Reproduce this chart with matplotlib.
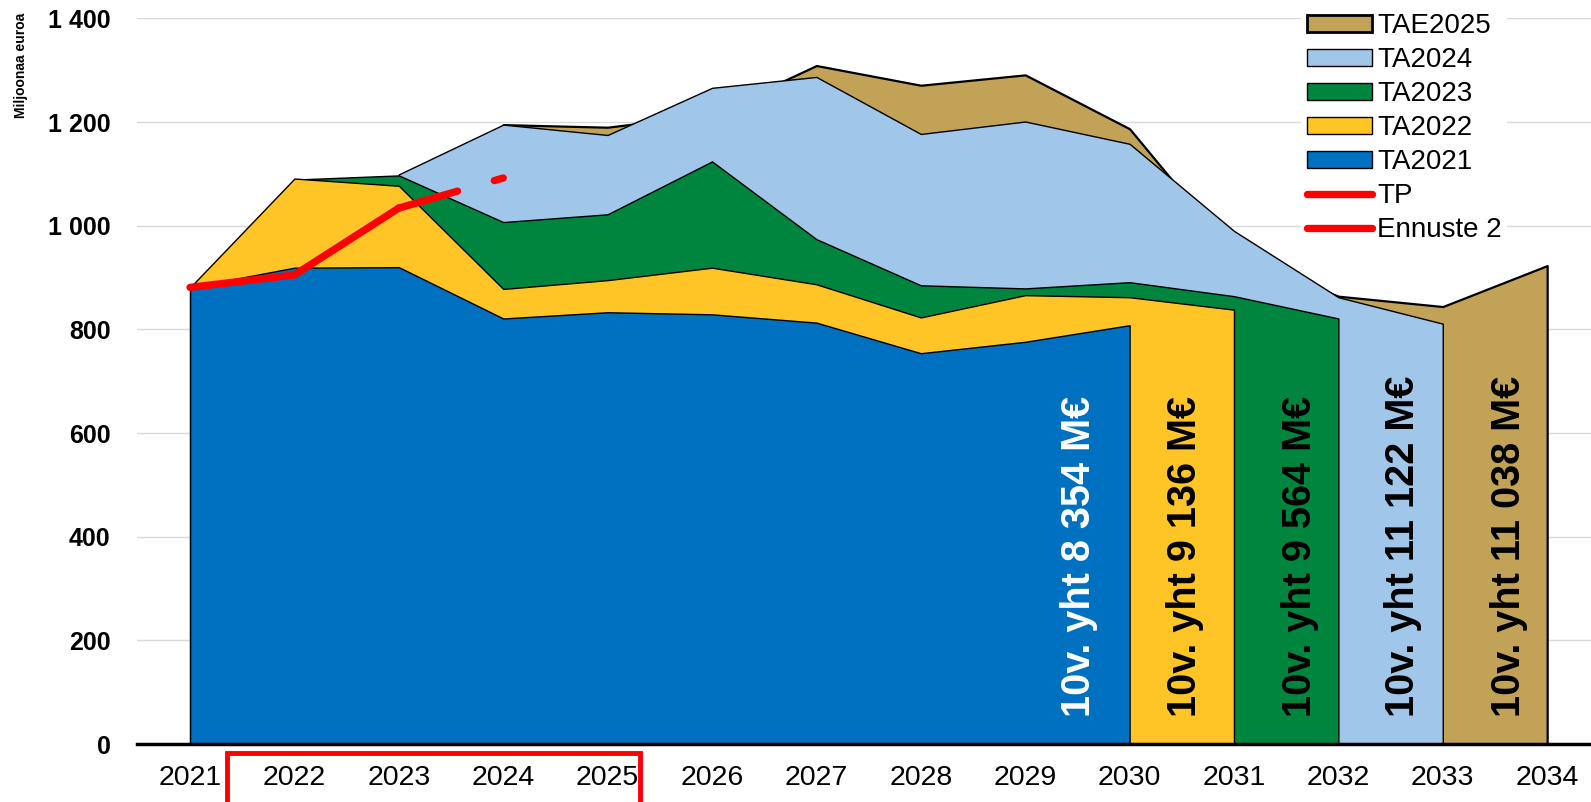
import numpy as np
import matplotlib.pyplot as plt
from matplotlib.patches import Rectangle, Patch
from matplotlib.lines import Line2D
import matplotlib.transforms as mtransforms

plt.rcParams['font.family'] = ['Liberation Sans', 'DejaVu Sans']

# data, M€ per year
years_2021 = np.arange(2021, 2031)
ta2021 = [881, 919, 920, 821, 833, 829, 813, 754, 776, 808]
years_2022 = np.arange(2021, 2032)
ta2022 = [881, 1091, 1077, 878, 895, 919, 887, 823, 866, 862, 838]
years_2023 = np.arange(2022, 2033)
ta2023 = [1089, 1097, 1007, 1022, 1124, 974, 885, 879, 891, 864, 821]
years_2024 = np.arange(2023, 2034)
ta2024 = [1099, 1195, 1175, 1266, 1287, 1177, 1201, 1158, 990, 862, 811]
years_2025 = np.arange(2024, 2035)
tae2025 = [1195, 1190, 1215, 1309, 1271, 1291, 1187, 944, 864, 844, 923]
tp_years = [2021, 2022, 2023]
tp = [881, 905, 1034]
ennuste_years = [2023, 2024]
ennuste = [1034, 1092]

labels = ['10v. yht 8 354 M€', '10v. yht 9 136 M€', '10v. yht 9 564 M€',
          '10v. yht 11 122 M€', '10v. yht 11 038 M€']
label_x = [2029.52, 2030.53, 2031.63, 2032.62, 2033.63]
label_colors = ['white', 'black', 'black', 'black', 'black']

c_blue = '#0070C0'
c_yellow = '#FFC425'
c_green = '#00853E'
c_light = '#A0C6E9'
c_tan = '#C2A257'

fig = plt.figure(figsize=(15.91, 8.02), dpi=100)
ax = fig.add_axes([0.086, 0.0723, 0.914, 0.9048])

# back to front
ax.fill_between(years_2025, tae2025, 0, facecolor=c_tan, edgecolor='black', lw=1.6, zorder=2)
ax.fill_between(years_2024, ta2024, 0, facecolor=c_light, edgecolor='black', lw=1, zorder=3)
ax.fill_between(years_2023, ta2023, 0, facecolor=c_green, edgecolor='black', lw=1, zorder=4)
ax.fill_between(years_2022, ta2022, 0, facecolor=c_yellow, edgecolor='black', lw=1, zorder=5)
ax.fill_between(years_2021, ta2021, 0, facecolor=c_blue, edgecolor='black', lw=1, zorder=6)

ax.plot(tp_years, tp, color='red', lw=5.3, solid_capstyle='round', zorder=8)
ax.plot(ennuste_years, ennuste, color='red', lw=5.3, ls=(0, (8.3, 5.2)),
        dash_capstyle='round', zorder=8)

for x, txt, col in zip(label_x, labels, label_colors):
    ax.text(x, 52, txt, rotation=90, ha='center', va='bottom', color=col,
            fontsize=28.5, fontweight='bold', zorder=9)

ax.set_xlim(2020.49, 2034.42)
ax.set_ylim(0, 1400)
ax.set_xticks(np.arange(2021, 2035))
ax.set_yticks(np.arange(0, 1401, 200))
ax.set_yticklabels(['{:,}'.format(v).replace(',', ' ') for v in range(0, 1401, 200)],
                   fontweight='bold', fontsize=18)
ax.tick_params(axis='x', labelsize=20.5, pad=15, length=0)
ax.tick_params(axis='y', pad=19, length=0)
ax.grid(axis='y', color='#d9d9d9', lw=1)
ax.set_axisbelow(True)
for s in ['top', 'right', 'left']:
    ax.spines[s].set_visible(False)
ax.spines['bottom'].set_linewidth(2.5)
ax.spines['bottom'].set_zorder(10)

ax.set_ylabel('Miljoonaa euroa', fontsize=10, fontweight='bold')
ax.yaxis.set_label_coords(-0.075, 0.935)

# red frame around 2022-2025
trans = mtransforms.blended_transform_factory(ax.transData, ax.transAxes)
ax.add_patch(Rectangle((2021.35, -0.09), 3.96, 0.078, transform=trans,
                       fill=False, edgecolor='red', lw=3.5, clip_on=False))

handles = [Patch(facecolor=c_tan, edgecolor='black', lw=2),
           Patch(facecolor=c_light, edgecolor='black', lw=1),
           Patch(facecolor=c_green, edgecolor='black', lw=1),
           Patch(facecolor=c_yellow, edgecolor='black', lw=1),
           Patch(facecolor=c_blue, edgecolor='black', lw=1),
           Line2D([], [], color='red', lw=5.3, solid_capstyle='round'),
           Line2D([], [], color='red', lw=5.3, solid_capstyle='round')]
leg = ax.legend(handles, ['TAE2025', 'TA2024', 'TA2023', 'TA2022', 'TA2021', 'TP', 'Ennuste 2'],
                loc='upper right', bbox_to_anchor=(0.952, 1.034), fontsize=20,
                frameon=True, facecolor='white', edgecolor='none', framealpha=1,
                handlelength=2.35, handleheight=0.55, handletextpad=0.18, labelspacing=0.29,
                borderpad=0.2)
leg.set_zorder(11)

fig.savefig('out.png', dpi=100)
